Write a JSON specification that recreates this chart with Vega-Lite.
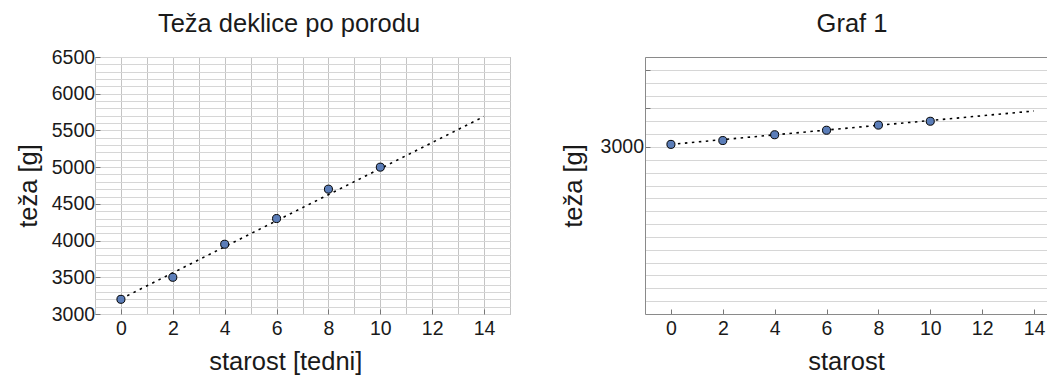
{
  "$schema": "https://vega.github.io/schema/vega-lite/v6.json",
  "padding": {"left": 15, "top": 11, "right": 0, "bottom": 0},
  "spacing": 50,
  "config": {
    "font": "Liberation Sans",
    "view": {"stroke": "#8a8a8a"},
    "axis": {"labelFont": "Liberation Sans", "labelFontSize": 19.5, "labelColor": "#1a1a1a", "titleFont": "Liberation Sans", "titleFontSize": 25.5, "titleFontWeight": "normal", "titleColor": "#1a1a1a", "domain": false, "ticks": false, "labelOverlap": false, "labelFlush": false},
    "title": {"font": "Liberation Sans", "fontSize": 25.5, "fontWeight": "normal", "color": "#1a1a1a"}
  },
  "datasets": {
    "pts": [
      {"starost": 0, "teza": 3200},
      {"starost": 2, "teza": 3500},
      {"starost": 4, "teza": 3950},
      {"starost": 6, "teza": 4300},
      {"starost": 8, "teza": 4700},
      {"starost": 10, "teza": 5000}
    ],
    "fitL": [
      {"starost": 0, "teza": 3206},
      {"starost": 14, "teza": 5690}
    ],
    "fitR": [
      {"starost": 0, "teza": 3200},
      {"starost": 14, "teza": 5800}
    ]
  },
  "hconcat": [
    {
      "width": 415,
      "height": 257,
      "title": {"text": "Teža deklice po porodu", "offset": -10, "baseline": "alphabetic", "dx": -13.5},
      "encoding": {
        "x": {"field": "starost", "type": "quantitative", "scale": {"domain": [-1, 15], "nice": false, "zero": false},
          "axis": {"title": "starost [tedni]", "titleX": 190.3, "values": [-1,0,1,2,3,4,5,6,7,8,9,10,11,12,13,14,15], "labelExpr": "datum.value >= 0 && datum.value <= 14 && datum.value % 2 == 0 ? datum.label : ''", "gridColor": "#c4c4c4", "labelPadding": 10.4, "titlePadding": 12,
            "ticks": true, "tickSize": -5, "tickColor": "#777", "tickOpacity": {"condition": {"test": "datum.value >= 0 && datum.value <= 14 && datum.value % 2 == 0", "value": 1}, "value": 0}}},
        "y": {"field": "teza", "type": "quantitative", "scale": {"domain": [3000, 6500], "nice": false, "zero": false},
          "axis": {"title": "teža [g]", "format": "d", "values": [3000,3100,3200,3300,3400,3500,3600,3700,3800,3900,4000,4100,4200,4300,4400,4500,4600,4700,4800,4900,5000,5100,5200,5300,5400,5500,5600,5700,5800,5900,6000,6100,6200,6300,6400,6500], "labelExpr": "datum.value % 500 == 0 ? datum.label : ''", "gridColor": "#d6d6d6", "labelPadding": 5.4, "titlePadding": 10,
            "ticks": true, "tickSize": -5, "tickColor": "#777", "tickOpacity": {"condition": {"test": "datum.value % 500 == 0", "value": 1}, "value": 0}}}
      },
      "layer": [
        {
          "data": {"name": "fitL"},
          "mark": {"type": "line", "color": "black", "strokeDash": [2.5, 4.5], "strokeWidth": 1.6}
        },
        {
          "data": {"name": "pts"},
          "mark": {"type": "circle", "fill": "#5b7db8", "stroke": "black", "strokeWidth": 1, "size": 65, "opacity": 1}
        }
      ]
    },
    {
      "width": 403,
      "height": 257,
      "view": {"stroke": null},
      "title": {"text": "Graf 1", "offset": -10, "baseline": "alphabetic", "dx": 5.5},
      "encoding": {
        "x": {"field": "starost", "type": "quantitative", "scale": {"domain": [-1, 14.54], "nice": false, "zero": false},
          "axis": {"orient": "bottom", "title": "starost", "titleX": 201, "values": [-1,0,1,2,3,4,5,6,7,8,9,10,11,12,13,14], "labelExpr": "datum.value >= 0 && datum.value <= 14 && datum.value % 2 == 0 ? datum.label : ''", "gridColor": "#c4c4c4", "labelPadding": 10.4, "titlePadding": 12, "domain": true, "domainColor": "#8a8a8a",
            "ticks": true, "tickSize": -5, "tickColor": "#777", "tickOpacity": {"condition": {"test": "datum.value >= 0 && datum.value <= 14 && datum.value % 2 == 0", "value": 1}, "value": 0}}},
        "y": {"field": "teza", "type": "quantitative", "scale": {"domain": [-10000, 10000], "nice": false, "zero": false},
          "axis": {"title": "teža [g]", "format": "d", "values": [-10000,-9000,-8000,-7000,-6000,-5000,-4000,-3000,-2000,-1000,0,1000,2000,3000,4000,5000,6000,7000,8000,9000,10000], "labelExpr": "datum.value == 3000 ? datum.label : ''", "gridColor": "#d6d6d6", "labelPadding": 6.5, "titlePadding": 14, "domain": true, "domainColor": "#8a8a8a",
            "ticks": true, "tickSize": -5, "tickColor": "#777", "tickOpacity": {"condition": {"test": "datum.value == 3000 || datum.value == 6000 || datum.value == 9000", "value": 1}, "value": 0}}}
      },
      "layer": [
        {
          "data": {"name": "fitR"},
          "mark": {"type": "line", "color": "black", "strokeDash": [2.5, 4.5], "strokeWidth": 1.6},
          "encoding": {
            "x": {"field": "starost", "type": "quantitative",
              "axis": {"orient": "top", "title": null, "labels": false, "grid": false, "ticks": false, "domain": true, "domainColor": "#8a8a8a"}}
          }
        },
        {
          "data": {"name": "pts"},
          "mark": {"type": "circle", "fill": "#5b7db8", "stroke": "black", "strokeWidth": 1, "size": 65, "opacity": 1}
        }
      ]
    }
  ]
}
